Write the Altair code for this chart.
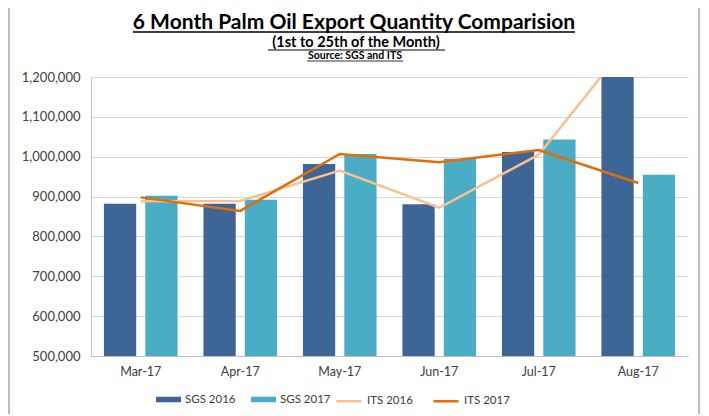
import altair as alt
import pandas as pd

months = ["Mar-17", "Apr-17", "May-17", "Jun-17", "Jul-17", "Aug-17"]
sgs_2016 = [882000, 882000, 982000, 881000, 1012000, 1260000]
sgs_2017 = [902000, 892000, 1007000, 995000, 1043000, 955000]
its_2016 = [888000, 889000, 965000, 872000, 1005000, 1318000]
its_2017 = [898000, 864000, 1007000, 986000, 1017000, 934000]

bar_series = ["SGS 2016", "SGS 2017"]
line_series = ["ITS 2016", "ITS 2017"]
bar_colors = ["#3D6596", "#4BACC6"]
line_colors = ["#FAC090", "#E46C0A"]
y_ticks = [500000, 600000, 700000, 800000, 900000, 1000000, 1100000, 1200000]

bars_df = pd.DataFrame({
    "month": months * 2,
    "series": ["SGS 2016"] * 6 + ["SGS 2017"] * 6,
    "value": sgs_2016 + sgs_2017,
})
lines_df = pd.DataFrame({
    "month": months * 2,
    "series": ["ITS 2016"] * 6 + ["ITS 2017"] * 6,
    "value": its_2016 + its_2017,
})

FONT = "Lato"
W, H = 597, 279

x_axis = alt.Axis(labelAngle=0, ticks=False, labelPadding=9, labelFontSize=12.5,
                  labelColor="#404040", labelFont=FONT, domainColor="#BFBFBF", grid=False)
x_scale = alt.Scale(paddingInner=0.26, paddingOuter=0.13)
y_scale = alt.Scale(domain=[500000, 1200000], nice=False, zero=False)
y_axis = alt.Axis(format=",d", values=y_ticks, ticks=False, labelOverlap=False,
                  labelPadding=11, labelFontSize=13, labelColor="#404040", labelFont=FONT,
                  grid=True, gridColor="#D9D9D9", gridWidth=1.2, domainColor="#BFBFBF", title=None)

bars = alt.Chart(bars_df).mark_bar(clip=True).encode(
    x=alt.X("month:N", sort=months, title=None, scale=x_scale, axis=x_axis),
    xOffset=alt.XOffset("series:N", sort=bar_series,
                        scale=alt.Scale(paddingInner=0.22, paddingOuter=0)),
    y=alt.Y("value:Q", scale=y_scale, axis=y_axis),
    color=alt.Color("series:N", sort=bar_series,
                    scale=alt.Scale(domain=bar_series, range=bar_colors),
                    legend=alt.Legend(orient="none", legendX=65, legendY=310, direction="horizontal",
                                      title=None, symbolType="M-1,-0.22H1V0.22H-1Z", symbolSize=625,
                                      symbolStrokeWidth=0, labelFontSize=11.5, labelFont=FONT,
                                      labelColor="#404040", labelOffset=4, columnPadding=15,
                                      padding=0)),
)

lines = alt.Chart(lines_df).mark_line(clip=True, strokeWidth=2.5).encode(
    x=alt.X("month:N", sort=months, title=None, scale=x_scale, axis=x_axis),
    y=alt.Y("value:Q", scale=y_scale, axis=y_axis),
    color=alt.Color("series:N", sort=line_series,
                    scale=alt.Scale(domain=line_series, range=line_colors),
                    legend=alt.Legend(orient="none", legendX=244, legendY=310, direction="horizontal",
                                      title=None, symbolType="stroke", symbolSize=625,
                                      symbolStrokeWidth=2.5, labelFontSize=11.5, labelFont=FONT,
                                      labelColor="#404040", labelOffset=4, columnPadding=15,
                                      padding=0)),
)

title_df = pd.DataFrame({"t": ["6 Month Palm Oil Export Quantity Comparision"]})
sub_df = pd.DataFrame({"t": ["(1st to 25th of the Month)"]})
src_df = pd.DataFrame({"t": ["Source: SGS and ITS"]})

title = alt.Chart(title_df).mark_text(font=FONT, fontSize=21, fontWeight="bold", color="#000000",
                                      baseline="alphabetic", align="center").encode(
    text="t:N", x=alt.value(263), y=alt.value(-48))
sub = alt.Chart(sub_df).mark_text(font=FONT, fontSize=14.5, fontWeight="bold", color="#000000",
                                  baseline="alphabetic", align="center").encode(
    text="t:N", x=alt.value(265), y=alt.value(-30))
src = alt.Chart(src_df).mark_text(font=FONT, fontSize=10.5, fontWeight="bold", color="#000000",
                                  baseline="alphabetic", align="center").encode(
    text="t:N", x=alt.value(264), y=alt.value(-18))

def uline(x1, x2, y, w):
    return alt.Chart(title_df).mark_rule(color="#000000", strokeWidth=w).encode(
        x=alt.value(x1), x2=alt.value(x2), y=alt.value(y))

u1 = uline(42, 484, -45, 1.3)
u2 = uline(177, 354, -27, 1)
u3 = uline(216, 312, -16, 0.8)

border = alt.Chart(title_df).mark_rect(fillOpacity=0, stroke="#A6A6A6", strokeWidth=1.5).encode(
    x=alt.value(-82), x2=alt.value(608), y=alt.value(-76), y2=alt.value(345))

chart = alt.layer(border, bars, lines, title, sub, src, u1, u2, u3).resolve_scale(
    color="independent"
).properties(
    width=W, height=H,
    autosize=alt.AutoSizeParams(type="none"),
    padding={"left": 83, "top": 69, "right": 13, "bottom": 58},
).configure_view(stroke=None)

chart.save("out.html", embed_options={"renderer": "svg", "actions": False})
